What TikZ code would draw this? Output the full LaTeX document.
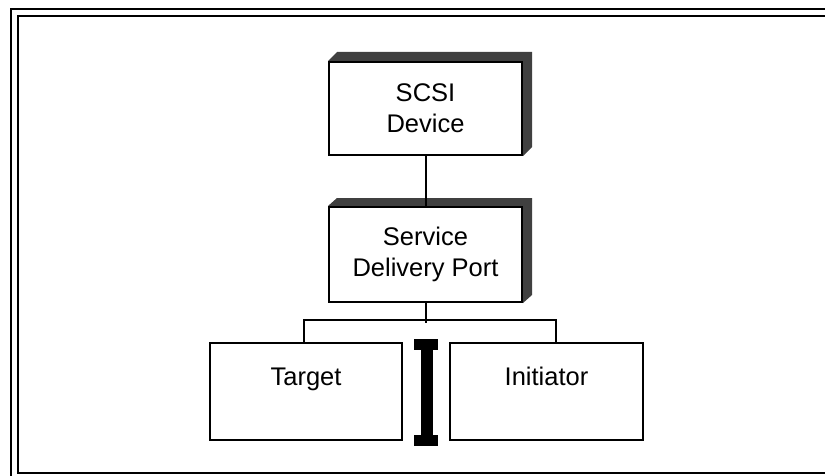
\documentclass[tikz,border=0pt]{standalone}
\usepackage{fontspec}
\setmainfont{Liberation Sans}
\usetikzlibrary{backgrounds}
\begin{document}
\begin{tikzpicture}[x=1pt,y=-1pt,
  box/.style={draw=black,line width=2pt,fill=white,inner sep=0pt,align=center,
    font=\fontsize{25.5}{31}\selectfont},
  lowbox/.style={box,text height=18.3pt,text depth=29.8pt},
  shade/.style={fill=black!75,draw=none},
  wire/.style={line width=2pt},
  frameline/.style={line width=2pt}]
\useasboundingbox (0,0) rectangle (825,476);

% double frame running off the right edge
\draw[frameline] (11,480) -- (11,9) -- (830,9);
\draw[frameline] (830,16) -- (18,16) -- (18,473) -- (830,473);

% boxes
\node[box,minimum width=193pt,minimum height=93pt] (scsi) at (425.5,108.5) {SCSI\\Device};
\node[box,minimum width=193pt,minimum height=95pt] (sdp) at (425.5,254.5) {Service\\Delivery Port};
\node[lowbox,minimum width=192pt,minimum height=96.5pt] (tgt) at (306,391.25) {Target};
\node[lowbox,minimum width=193pt,minimum height=96.5pt] (ini) at (546.5,391.25) {Initiator};

% extruded shading behind the upper boxes
\begin{scope}[on background layer]
\fill[shade] (scsi.north west) -- ++(9,-9) -- ([shift={(9,-9)}]scsi.north east)
  -- ([shift={(9,-9)}]scsi.south east) -- (scsi.south east) -- cycle;
\fill[shade] (sdp.north west) -- ++(9,-8) -- ([shift={(9,-8)}]sdp.north east)
  -- ([shift={(9,-8)}]sdp.south east) -- (sdp.south east) -- cycle;
\end{scope}

% connectors
\coordinate (jn) at (425.5,323);
\coordinate (busL) at (304,320);
\coordinate (busR) at (556,320);
\draw[wire] (scsi.south) -- (sdp.north);
\draw[wire] (sdp.south) -- (jn);
\draw[wire] (busL |- tgt.north) -- (busL) -- (busR) -- (busR |- ini.north);

% I-beam between the lower boxes
\fill (414,339) rectangle (438,350);
\fill (420.5,349) rectangle (432.5,436);
\fill (414,435) rectangle (438,446);
\end{tikzpicture}
\end{document}
